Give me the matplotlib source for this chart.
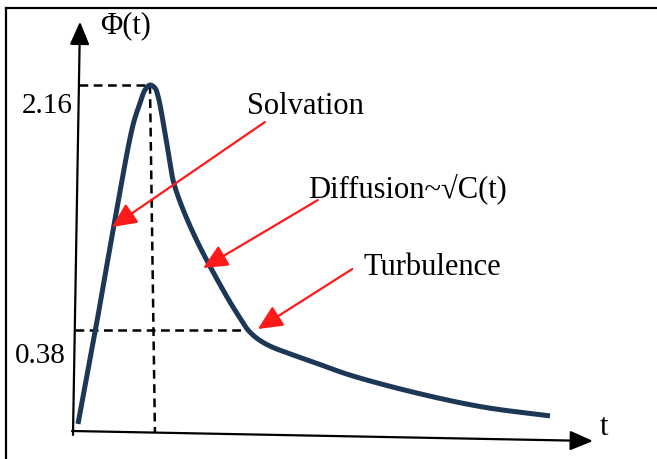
import numpy as np
import matplotlib.pyplot as plt
from matplotlib.lines import Line2D

plt.rcParams['font.family'] = ['Liberation Serif', 'DejaVu Serif']

# schematic curve Phi(t), arbitrary time units
t_vals = [0.0, 0.381, 0.763, 1.165, 1.314, 1.419, 1.525, 1.631, 1.695,
          1.822, 1.928, 2.013, 2.140, 2.373, 2.648, 3.157, 3.390, 3.602,
          3.814, 4.068, 4.492, 4.979, 5.763, 7.182, 8.581, 10.0]
phi_vals = [0.030, 0.402, 1.143, 1.869, 2.029, 2.124, 2.16, 2.138, 2.080,
            1.855, 1.637, 1.470, 1.332, 1.136, 0.939, 0.620, 0.489, 0.38,
            0.346, 0.320, 0.291, 0.261, 0.212, 0.145, 0.093, 0.060]

PEAK_T = 1.525
PEAK_PHI = 2.16
KNEE_T = 3.602
KNEE_PHI = 0.38

# annotation: (label, text position, arrow tail, arrow tip)
labels = ['Solvation', 'Diffusion~\u221aC(t)', 'Turbulence']
text_pos = [(3.58, 1.949), (4.87, 1.346), (6.04, 0.780)]
arrow_tail = [(3.96, 1.891), (5.08, 1.324), (5.81, 0.823)]
arrow_tip = [(0.72, 1.128), (2.65, 0.830), (3.81, 0.387)]

T_PX = 47.2  # pixels per time unit


# piecewise linear axis, not to scale (schematic)
def forward(phi):
    phi = np.asarray(phi, dtype=float)
    return np.where(phi <= KNEE_PHI, phi * 102 / KNEE_PHI,
                    102 + (phi - KNEE_PHI) * 245 / (PEAK_PHI - KNEE_PHI))


def inverse(h):
    h = np.asarray(h, dtype=float)
    return np.where(h <= 102, h * KNEE_PHI / 102,
                    KNEE_PHI + (h - 102) * (PEAK_PHI - KNEE_PHI) / 245)


def smooth(x, y, n=24):
    # centripetal catmull-rom through the points
    p = np.column_stack([x, y])
    p = np.vstack([2 * p[0] - p[1], p, 2 * p[-1] - p[-2]])
    out = []
    for i in range(1, len(p) - 2):
        p0, p1, p2, p3 = p[i - 1], p[i], p[i + 1], p[i + 2]
        t0 = 0.0
        t1 = t0 + np.linalg.norm(p1 - p0) ** 0.5
        t2 = t1 + np.linalg.norm(p2 - p1) ** 0.5
        t3 = t2 + np.linalg.norm(p3 - p2) ** 0.5
        tt = np.linspace(t1, t2, n, endpoint=False)[:, None]
        a1 = (t1 - tt) / (t1 - t0) * p0 + (tt - t0) / (t1 - t0) * p1
        a2 = (t2 - tt) / (t2 - t1) * p1 + (tt - t1) / (t2 - t1) * p2
        a3 = (t3 - tt) / (t3 - t2) * p2 + (tt - t2) / (t3 - t2) * p3
        b1 = (t2 - tt) / (t2 - t0) * a1 + (tt - t0) / (t2 - t0) * a2
        b2 = (t3 - tt) / (t3 - t1) * a2 + (tt - t1) / (t3 - t1) * a3
        out.append((t2 - tt) / (t2 - t1) * b1 + (tt - t1) / (t2 - t1) * b2)
    out.append(p[-2][None, :])
    out = np.vstack(out)
    return out[:, 0], out[:, 1]


fig = plt.figure(figsize=(6.57, 4.59), dpi=100)
ax = fig.add_axes([0, 0, 1, 1])
ax.set_yscale('function', functions=(forward, inverse))
ax.set_xlim(-78 / T_PX, (657 - 78) / T_PX)
ax.set_ylim(inverse(-27), inverse(432))
ax.axis('off')

# frame lines (top and left only)
fig.add_artist(Line2D([0.009, 1.0], [1 - 8 / 459, 1 - 8 / 459], color='black', lw=1.6))
fig.add_artist(Line2D([0.0098, 0.0098], [0.0, 1 - 8 / 459], color='black', lw=1.6))

# axes with arrows
axis_arrow = dict(arrowstyle='-|>,head_length=1.4,head_width=0.6',
                  color='black', lw=1.6, mutation_scale=10, shrinkA=0, shrinkB=0)
ax.annotate('', xy=(0.042, 2.62), xytext=(-0.106, -0.011), arrowprops=axis_arrow)
ax.annotate('', xy=(10.91, -0.0335), xytext=(-0.127, 0.0037), arrowprops=axis_arrow)

ax.text(0.47, 2.538, '\u03a6(t)', fontsize=22, ha='left', va='baseline')
ax.text(11.06, -0.011, 't', fontsize=22, ha='left', va='baseline')

# reference dashed lines
dash = dict(color='black', lw=1.8, dashes=(3.5, 2.2))
ax.plot([0.02, PEAK_T], [PEAK_PHI, PEAK_PHI], **dash)
ax.plot([PEAK_T, 1.63], [PEAK_PHI, 0.0], **dash)
ax.plot([-0.06, KNEE_T], [KNEE_PHI, KNEE_PHI], **dash)

ax.annotate('2.16', xy=(0.0, PEAK_PHI), xytext=(-4, -20), textcoords='offset points',
            fontsize=21, ha='right', va='baseline')
ax.annotate('0.38', xy=(-0.05, KNEE_PHI), xytext=(-7, -24), textcoords='offset points',
            fontsize=21, ha='right', va='baseline')

# smooth the curve in pixel-like space, then map back to t and Phi
sx, sh = smooth(np.array(t_vals) * T_PX, forward(phi_vals))
ax.plot(sx / T_PX, inverse(sh), color='#1d3857', lw=3.6, solid_joinstyle='round',
        solid_capstyle='butt', zorder=3)

for lab, pos, tail, tip in zip(labels, text_pos, arrow_tail, arrow_tip):
    ax.text(pos[0], pos[1], lab, fontsize=22, ha='left', va='baseline')
    ax.annotate('', xy=tip, xytext=tail,
                arrowprops=dict(arrowstyle='-|>,head_length=1.5,head_width=0.7',
                                color='#ff1a1a', lw=1.6, mutation_scale=10,
                                shrinkA=0, shrinkB=0), zorder=4)

fig.savefig('out.png', dpi=100)
